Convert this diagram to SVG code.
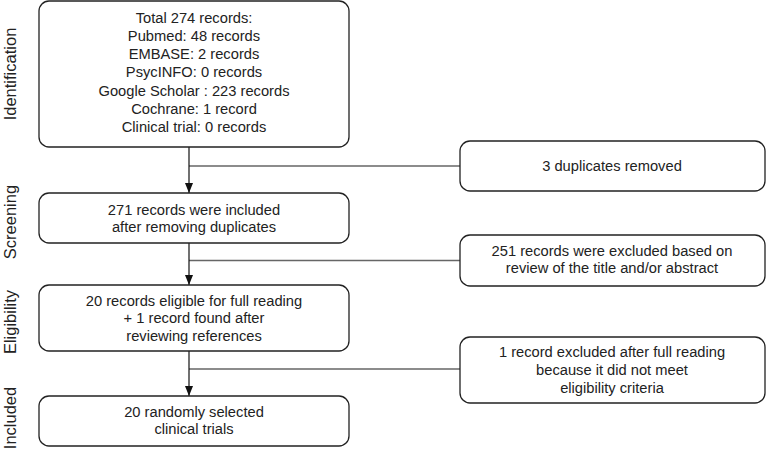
<svg xmlns="http://www.w3.org/2000/svg" width="771" height="450" viewBox="0 0 771 450">
<style>
.box{fill:#fff;stroke:#222;stroke-width:1.3}
text{font-family:"Liberation Sans",Arial,sans-serif;font-size:14.7px;fill:#222}
.c{text-anchor:middle}
.side{font-size:16.5px;text-anchor:middle}
.v{stroke:#111;stroke-width:1.2;fill:none}
.h{stroke:#666;stroke-width:1.3;fill:none}
</style>
<defs>
<marker id="ah" markerWidth="10" markerHeight="8" refX="10" refY="4" orient="auto" markerUnits="userSpaceOnUse" viewBox="0 0 10 8">
<path d="M0,0 L10,4 L0,8 Z" fill="#111"/>
</marker>
</defs>
<g id="side-labels">
<text class="side" transform="translate(16,74) rotate(-90)">Identification</text>
<text class="side" transform="translate(16,222) rotate(-90)">Screening</text>
<text class="side" transform="translate(16,322) rotate(-90)">Eligibility</text>
<text class="side" transform="translate(16,418) rotate(-90)">Included</text>
</g>
<g id="connectors">
<line class="h" x1="189" y1="166" x2="460" y2="166"/>
<line class="h" x1="189" y1="260.5" x2="460" y2="260.5"/>
<line class="h" x1="189" y1="369" x2="460" y2="369"/>
<line class="v" x1="189" y1="147" x2="189" y2="193" marker-end="url(#ah)"/>
<line class="v" x1="189" y1="243" x2="189" y2="285" marker-end="url(#ah)"/>
<line class="v" x1="189" y1="351" x2="189" y2="396" marker-end="url(#ah)"/>
</g>
<g id="identification">
<rect class="box" x="39" y="1" width="310" height="146" rx="10"/>
<text class="c" x="194" y="23">Total 274 records:</text>
<text class="c" x="194" y="41">Pubmed: 48 records</text>
<text class="c" x="194" y="59">EMBASE: 2 records</text>
<text class="c" x="194" y="77">PsycINFO: 0 records</text>
<text class="c" x="194" y="96">Google Scholar : 223 records</text>
<text class="c" x="194" y="114">Cochrane: 1 record</text>
<text class="c" x="194" y="132">Clinical trial: 0 records</text>
</g>
<g id="duplicates">
<rect class="box" x="460" y="141" width="305" height="50" rx="10"/>
<text class="c" x="612" y="171">3 duplicates removed</text>
</g>
<g id="screening">
<rect class="box" x="39" y="193" width="310" height="50" rx="10"/>
<text class="c" x="194" y="215">271 records were included</text>
<text class="c" x="194" y="232">after removing duplicates</text>
</g>
<g id="excluded-title">
<rect class="box" x="460" y="235" width="305" height="51" rx="10"/>
<text class="c" x="612" y="256">251 records were excluded based on</text>
<text class="c" x="612" y="273">review of the title and/or abstract</text>
</g>
<g id="eligibility">
<rect class="box" x="39" y="285" width="310" height="66" rx="10"/>
<text class="c" x="194" y="306">20 records eligible for full reading</text>
<text class="c" x="194" y="323">+ 1 record found after</text>
<text class="c" x="194" y="341">reviewing references</text>
</g>
<g id="excluded-full">
<rect class="box" x="460" y="337" width="305" height="66" rx="10"/>
<text class="c" x="612" y="357">1 record excluded after full reading</text>
<text class="c" x="612" y="375">because it did not meet</text>
<text class="c" x="612" y="393">eligibility criteria</text>
</g>
<g id="included">
<rect class="box" x="39" y="396" width="310" height="50" rx="10"/>
<text class="c" x="194" y="417">20 randomly selected</text>
<text class="c" x="194" y="434">clinical trials</text>
</g>
</svg>
